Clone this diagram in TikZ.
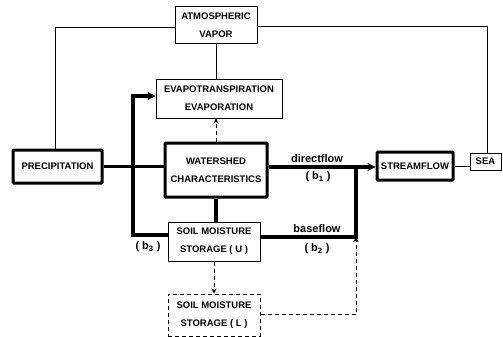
\documentclass[tikz,border=0pt]{standalone}
\usepackage{fontspec}
\setmainfont{Liberation Sans}
\usetikzlibrary{arrows.meta, calc}

\begin{document}
\begin{tikzpicture}[x=1pt, y=-1pt,
        font=\fontsize{9.5}{18}\selectfont\bfseries,
        >={Stealth[length=2.8mm, width=2.8mm]},
        box/.style={draw, line width=1pt, align=center, inner sep=0pt},
        bigbox/.style={box, line width=3pt, rounded corners=1pt},
        dbox/.style={box, dash pattern=on 4pt off 3pt},
        flow/.style={line width=3.5pt},
        link/.style={line width=1pt},
        dlink/.style={line width=1pt, dash pattern=on 4pt off 3pt, -{Stealth[length=1.8mm, width=1.8mm]}},
        lbl/.style={font=\fontsize{11}{12}\selectfont\bfseries}
    ]
        \useasboundingbox (0,0) rectangle (503,337);

        %=================== boxes ===================
        \node[box, minimum width=82pt, minimum height=37pt] (atm) at (216,25.5) {ATMOSPHERIC\\VAPOR};
        \node[box, minimum width=126pt, minimum height=39pt] (evap) at (219,98.5) {EVAPOTRANSPIRATION\\EVAPORATION};
        \node[bigbox, minimum width=89pt, minimum height=33pt] (prec) at (57.5,166.5) {PRECIPITATION};
        \node[bigbox, minimum width=102pt, minimum height=54pt] (ws) at (216,170) {WATERSHED\\CHARACTERISTICS};
        \node[box, minimum width=92pt, minimum height=39pt] (smu) at (214,241.5) {SOIL MOISTURE\\STORAGE ( U )};
        \node[dbox, minimum width=92pt, minimum height=42pt] (sml) at (214,315) {SOIL MOISTURE\\STORAGE ( L )};
        \node[bigbox, minimum width=76pt, minimum height=28pt] (sf) at (415,166) {STREAMFLOW};
        \node[box, minimum width=31pt, minimum height=17pt] (sea) at (485.5,161.5) {SEA};

        % bends of the connectors
        \coordinate (jl) at (133,235);
        \coordinate (jt) at (133,96);
        \coordinate (jd) at (356,167);
        \coordinate (jb) at (356,237);
        \coordinate (jdl) at (356,314);
        \coordinate (atl) at (55,28);
        \coordinate (atr) at (487,27);

        %=================== main flows ===================
        \draw[flow] (prec.east) -- (ws.west |- prec.east);
        \draw[flow, ->] (jl -| smu.west) -- (jl) -- (jt) -- (jt -| evap.west);
        \draw[flow] (ws.south) -- (ws.south |- smu.north);
        \draw[flow, ->] (ws.east |- jd) -- (jd -| sf.west);
        \draw[flow] (jb -| smu.east) -- (jb) -- (jd);

        %=================== vapor cycle ===================
        \draw[link] (sf.east) -- (sf.east -| sea.west);
        \draw[link] (atm.west |- atl) -- (atl) -- (atl |- prec.north);
        \draw[link] (sea.north -| atr) -- (atr) -- (atr -| atm.east);
        \draw[link] (atm.south) -- (atm.south |- evap.north);

        % dashed exchanges
        \draw[dlink] (ws.north) -- (ws.north |- evap.south);
        \draw[dlink] (smu.south) -- (sml.north);
        \draw[dlink] (jdl -| sml.east) -- (jdl) -- (jb);

        %=================== labels ===================
        \node[lbl] (dflab) at (317,159) {directflow};
        \node[lbl] (b1lab) at (318,177) {( b\textsubscript{1} )};
        \node[lbl] (bflab) at (317,229) {baseflow};
        \node[lbl] (b2lab) at (317,249) {( b\textsubscript{2} )};
        \node[lbl] (b3lab) at (148,247) {( b\textsubscript{3} )};
    \end{tikzpicture}
\end{document}
